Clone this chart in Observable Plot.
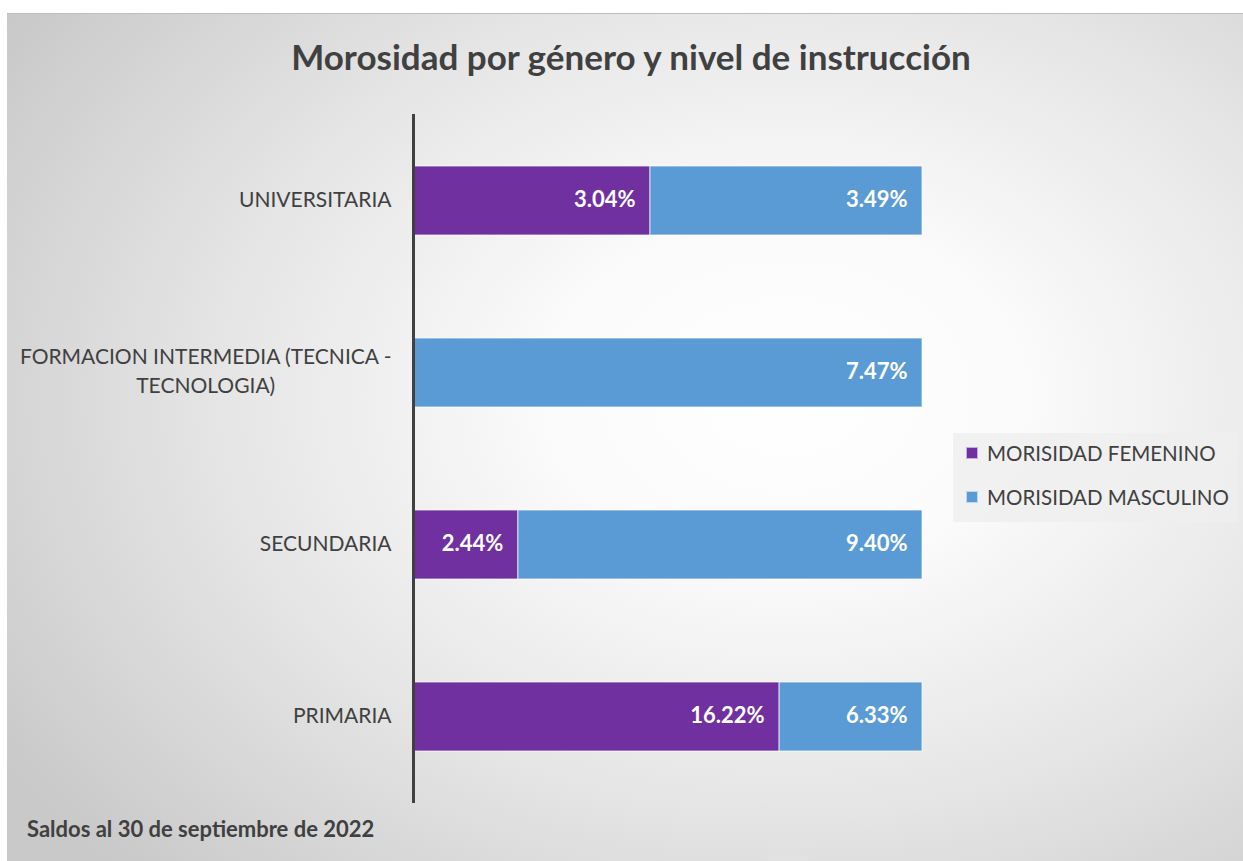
<!DOCTYPE html>
<html>
<head>
<meta charset="utf-8">
<script src="https://cdn.jsdelivr.net/npm/d3@7"></script>
<script src="https://cdn.jsdelivr.net/npm/@observablehq/plot@0.6"></script>
<style>
  html, body { margin: 0; padding: 0; background: #fff; }
  body { width: 1243px; height: 861px; overflow: hidden; position: relative; font-family: Lato, "Open Sans", sans-serif; }
  #frame {
    position: absolute; left: 7px; top: 13px; width: 1236px; height: 848px;
    border-top: 1px solid #bdbdbd;
    background: radial-gradient(ellipse 75% 80% at 63% 45%, #ffffff 0%, #fbfbfb 25%, #e6e6e6 60%, #c9c9c9 100%);
  }
  #title {
    height: 87px; line-height: 85px; text-align: center; padding-left: 12px;
    font-size: 35px; font-weight: 700; color: #404040; white-space: nowrap;
  }
  #caption {
    position: absolute; left: 20px; top: 801px; font-size: 22px; font-weight: 700; color: #404040;
  }
  #legend {
    position: absolute; left: 946px; top: 419px; width: 285px; height: 89px;
    background: rgba(238,238,238,0.85);
  }
  .li { position: absolute; left: 13px; font-size: 20.5px; color: #404040; display: flex; align-items: center; white-space: nowrap; }
  .sw { width: 10px; height: 10px; margin-right: 9px; border: 1px solid rgba(255,255,255,0.6); }
</style>
</head>
<body>
<div id="frame">
  <div id="title">Morosidad por género y nivel de instrucción</div>
  <div id="chart"></div>
  <div id="legend"></div>
  <div id="caption">Saldos al 30 de septiembre de 2022</div>
</div>
<script>
const categories = ["UNIVERSITARIA", "FORMACION INTERMEDIA (TECNICA - TECNOLOGIA)", "SECUNDARIA", "PRIMARIA"];
const femenino = [3.04, null, 2.44, 16.22];
const masculino = [3.49, 7.47, 9.40, 6.33];
const seriesNames = ["MORISIDAD FEMENINO", "MORISIDAD MASCULINO"];
const seriesColors = ["#7030A0", "#5B9BD5"];

const data = [];
categories.forEach((c, i) => {
  if (femenino[i] != null) data.push({cat: c, series: seriesNames[0], value: femenino[i]});
  if (masculino[i] != null) data.push({cat: c, series: seriesNames[1], value: masculino[i]});
});

const labelLines = {
  "FORMACION INTERMEDIA (TECNICA - TECNOLOGIA)": "FORMACION INTERMEDIA (TECNICA -\nTECNOLOGIA)"
};

const plot = Plot.plot({
  width: 1236,
  height: 761,
  marginTop: 13,
  marginBottom: 59,
  marginLeft: 406,
  marginRight: 321,
  style: {background: "transparent", fontFamily: "Lato, 'Open Sans', sans-serif"},
  x: {axis: null, domain: [0, 1]},
  y: {domain: categories, paddingInner: 0.6, paddingOuter: 0.3, label: null},
  color: {domain: seriesNames, range: seriesColors},
  marks: [
    Plot.barX(data, Plot.stackX({
      x: "value", y: "cat", z: "series", fill: "series", offset: "normalize",
      stroke: "#ffffff", strokeWidth: 1, strokeOpacity: 0.7
    })),
    Plot.text(data, Plot.stackX2({
      x: "value", y: "cat", z: "series", offset: "normalize",
      text: d => d.value.toFixed(2) + "%",
      textAnchor: "end", dx: -15, dy: -1,
      fill: "white", fontSize: 22, fontWeight: 700
    })),
    Plot.axisY({
      tickSize: 0, tickPadding: 22, fontSize: 21, label: null,
      tickFormat: d => labelLines[d] || d, lineHeight: 1.42, dy: -4
    }),
    Plot.ruleX([0], {stroke: "#404040", strokeWidth: 3})
  ]
});
document.getElementById("chart").appendChild(plot);

// style axis tick labels; center multi-line labels
plot.querySelectorAll("g[aria-label='y-axis tick label'] text").forEach(t => {
  t.style.fill = "#404040";
  const spans = t.querySelectorAll("tspan");
  if (spans.length > 1) {
    let maxW = 0;
    spans.forEach(s => { maxW = Math.max(maxW, s.getComputedTextLength()); });
    t.setAttribute("text-anchor", "middle");
    const dx = -maxW / 2;
    spans.forEach(s => s.setAttribute("x", dx));
  }
});

const legend = document.getElementById("legend");
seriesNames.forEach((name, i) => {
  const row = document.createElement("div");
  row.className = "li";
  row.style.top = (i === 0 ? 8 : 52) + "px";
  row.innerHTML = `<span class="sw" style="background:${seriesColors[i]}"></span><span>${name}</span>`;
  legend.appendChild(row);
});
</script>
</body>
</html>
